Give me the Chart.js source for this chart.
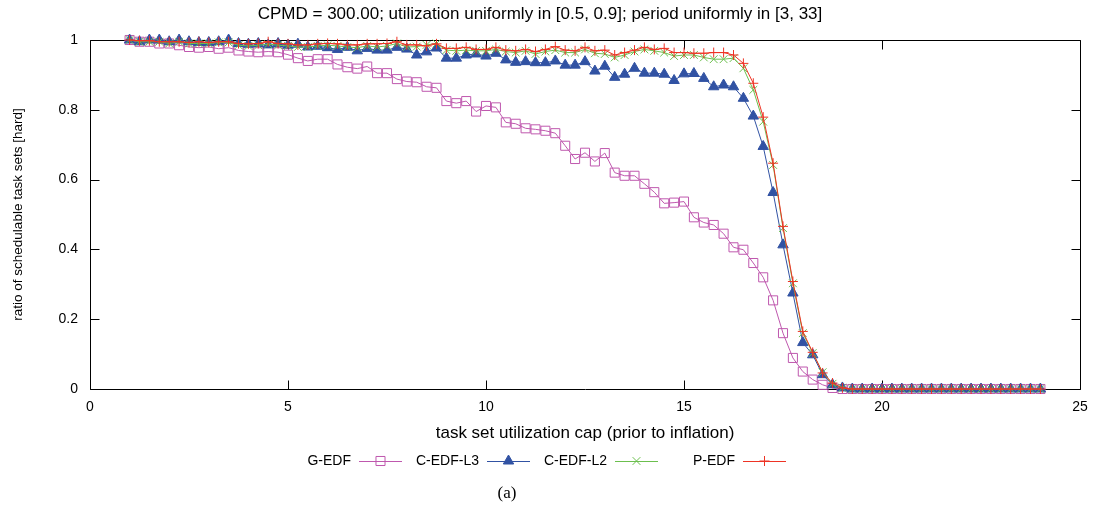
<!DOCTYPE html>
<html>
<head>
<meta charset="utf-8">
<script src="https://cdn.jsdelivr.net/npm/chart.js@4.4.0/dist/chart.umd.min.js"></script>
<style>
  body { margin: 0; background: #fff; }
  #wrap { position: relative; width: 1103px; height: 507px; }
  #rotulo { position: absolute; left: 0; width: 1014px; top: 484px; text-align: center;
            font-family: "Liberation Serif", serif; font-size: 17px; line-height: 17px; color: #000; }
</style>
</head>
<body>
<div id="wrap">
  <canvas id="grafico"></canvas>
  <div id="rotulo">(a)</div>
</div>
<script>
// eixo x: cap de utilizacao
const capsUtil = [
  1, 1.25, 1.5, 1.75, 2, 2.25, 2.5, 2.75, 3, 3.25,
  3.5, 3.75, 4, 4.25, 4.5, 4.75, 5, 5.25, 5.5, 5.75,
  6, 6.25, 6.5, 6.75, 7, 7.25, 7.5, 7.75, 8, 8.25,
  8.5, 8.75, 9, 9.25, 9.5, 9.75, 10, 10.25, 10.5, 10.75,
  11, 11.25, 11.5, 11.75, 12, 12.25, 12.5, 12.75, 13, 13.25,
  13.5, 13.75, 14, 14.25, 14.5, 14.75, 15, 15.25, 15.5, 15.75,
  16, 16.25, 16.5, 16.75, 17, 17.25, 17.5, 17.75, 18, 18.25,
  18.5, 18.75, 19, 19.25, 19.5, 19.75, 20, 20.25, 20.5, 20.75,
  21, 21.25, 21.5, 21.75, 22, 22.25, 22.5, 22.75, 23, 23.25,
  23.5, 23.75, 24
]

const gEdf = [
  1.0, 0.995, 0.995, 0.99, 0.99, 0.985, 0.98, 0.978, 0.98, 0.975,
  0.978, 0.97, 0.967, 0.965, 0.967, 0.965, 0.958, 0.948, 0.94, 0.945,
  0.945, 0.93, 0.922, 0.918, 0.924, 0.905, 0.905, 0.888, 0.881, 0.879,
  0.866, 0.863, 0.825, 0.819, 0.825, 0.795, 0.811, 0.807, 0.764, 0.76,
  0.747, 0.744, 0.74, 0.733, 0.697, 0.659, 0.677, 0.652, 0.676, 0.62,
  0.611, 0.611, 0.588, 0.564, 0.532, 0.534, 0.537, 0.492, 0.477, 0.47,
  0.445, 0.406, 0.399, 0.361, 0.32, 0.254, 0.16, 0.089, 0.05, 0.027,
  0.012, 0.003, 0, 0, 0, 0, 0, 0, 0, 0,
  0, 0, 0, 0, 0, 0, 0, 0, 0, 0,
  0, 0, 0
]

const cEdfL3 = [
  1.0, 0.995, 1.0, 1.0, 0.995, 1.0, 0.995, 0.993, 0.993, 0.995,
  1.0, 0.99, 0.988, 0.99, 0.986, 0.99, 0.985, 0.988, 0.98, 0.982,
  0.978, 0.973, 0.979, 0.969, 0.976, 0.971, 0.971, 0.979, 0.974, 0.957,
  0.966, 0.977, 0.948, 0.948, 0.957, 0.96, 0.954, 0.962, 0.943, 0.936,
  0.938, 0.935, 0.935, 0.94, 0.928, 0.928, 0.938, 0.911, 0.925, 0.893,
  0.902, 0.919, 0.905, 0.905, 0.902, 0.884, 0.903, 0.904, 0.89, 0.866,
  0.871, 0.866, 0.833, 0.782, 0.695, 0.563, 0.413, 0.275, 0.133, 0.098,
  0.041, 0.012, 0.003, 0, 0, 0, 0, 0, 0, 0,
  0, 0, 0, 0, 0, 0, 0, 0, 0, 0,
  0, 0, 0
]

const cEdfL2 = [
  1.0, 0.995, 0.995, 0.995, 0.99, 0.995, 0.99, 0.99, 0.99, 0.993,
  0.993, 0.985, 0.983, 0.985, 0.988, 0.985, 0.983, 0.98, 0.98, 0.983,
  0.985, 0.983, 0.98, 0.978, 0.983, 0.98, 0.983, 0.99, 0.98, 0.981,
  0.986, 0.99, 0.971, 0.969, 0.971, 0.969, 0.969, 0.973, 0.967, 0.964,
  0.969, 0.96, 0.967, 0.971, 0.964, 0.964, 0.973, 0.962, 0.96, 0.95,
  0.957, 0.967, 0.973, 0.969, 0.964, 0.954, 0.957, 0.957, 0.95, 0.945,
  0.945, 0.948, 0.919, 0.857, 0.766, 0.642, 0.461, 0.303, 0.16, 0.103,
  0.048, 0.015, 0.003, 0, 0, 0, 0, 0, 0, 0,
  0, 0, 0, 0, 0, 0, 0, 0, 0, 0,
  0, 0, 0
]

const pEdf = [
  1.0, 0.998, 0.998, 0.995, 0.995, 0.995, 0.993, 0.995, 0.993, 0.995,
  0.995, 0.99, 0.989, 0.99, 0.995, 0.99, 0.989, 0.986, 0.986, 0.989,
  0.99, 0.989, 0.986, 0.986, 0.989, 0.989, 0.99, 0.995, 0.986, 0.986,
  0.983, 0.989, 0.976, 0.976, 0.979, 0.973, 0.973, 0.979, 0.971, 0.969,
  0.973, 0.967, 0.973, 0.981, 0.971, 0.969, 0.979, 0.969, 0.971, 0.957,
  0.964, 0.971, 0.979, 0.973, 0.976, 0.964, 0.964, 0.962, 0.962, 0.964,
  0.964, 0.957, 0.933, 0.876, 0.779, 0.647, 0.466, 0.308, 0.165, 0.105,
  0.046, 0.017, 0.003, 0, 0, 0, 0, 0, 0, 0,
  0, 0, 0, 0, 0, 0, 0, 0, 0, 0,
  0, 0, 0
]

const nomesSeries = ['G-EDF', 'C-EDF-L3', 'C-EDF-L2', 'P-EDF']
const ticksX = [0, 5, 10, 15, 20, 25]
const ticksY = [0, 0.2, 0.4, 0.6, 0.8, 1]

const fonte = 'Liberation Sans'

// estilo de cada serie (cor, marcador)
const estilos = [
  { cor: '#bf58ae', ponto: 'rect', raio: 6.4, fundo: 'rgba(0,0,0,0)' },
  { cor: '#3152a3', ponto: 'triangle', raio: 6, fundo: '#3152a3' },
  { cor: '#6cbf4e', ponto: 'crossRot', raio: 5.5, fundo: 'rgba(0,0,0,0)' },
  { cor: '#ee3324', ponto: 'cross', raio: 5, fundo: 'rgba(0,0,0,0)' }
]

function montarPontos(valores) {
    return capsUtil.map((x, i) => ({ x: x, y: valores[i] }))
}

const todasSeries = [gEdf, cEdfL3, cEdfL2, pEdf]

const datasets = todasSeries.map((valores, i) => ({
    label: nomesSeries[i],
    data: montarPontos(valores),
    borderColor: estilos[i].cor,
    backgroundColor: estilos[i].fundo,
    pointBorderColor: estilos[i].cor,
    pointBackgroundColor: estilos[i].fundo,
    pointStyle: estilos[i].ponto,
    pointRadius: estilos[i].raio,
    pointBorderWidth: 1,
    borderWidth: 1,
    tension: 0,
    fill: false,
    clip: false,
    order: 4 - i // P-EDF por cima
}))

function desenharMarcador(ctx, estilo, x, y) {
    ctx.strokeStyle = estilo.cor
    ctx.fillStyle = estilo.fundo
    ctx.lineWidth = 1
    if (Chart.helpers && Chart.helpers.drawPoint) {
        Chart.helpers.drawPoint(ctx, { pointStyle: estilo.ponto, radius: estilo.raio, borderWidth: 1, rotation: 0 }, x, y)
    }
}

// moldura com ticks para dentro (estilo gnuplot) + legenda embaixo
const pluginMoldura = {
    id: 'moldura',
    beforeDatasetsDraw(chart) {
        const ctx = chart.ctx
        const a = chart.chartArea
        const sx = chart.scales.x
        const sy = chart.scales.y
        const L = Math.round(a.left) + 0.5
        const R = Math.round(a.right) + 0.5
        const T = Math.round(a.top) + 0.5
        const B = Math.round(a.bottom) + 0.5
        ctx.save()
        ctx.strokeStyle = '#000'
        ctx.lineWidth = 1
        ctx.beginPath()
        ctx.rect(L, T, R - L, B - T)
        ticksX.forEach((v) => {
            const px = Math.round(sx.getPixelForValue(v)) + 0.5
            ctx.moveTo(px, B); ctx.lineTo(px, B - 9)
            ctx.moveTo(px, T); ctx.lineTo(px, T + 9)
        })
        ticksY.forEach((v) => {
            const py = Math.round(sy.getPixelForValue(v)) + 0.5
            ctx.moveTo(L, py); ctx.lineTo(L + 9, py)
            ctx.moveTo(R, py); ctx.lineTo(R - 9, py)
        })
        ctx.stroke()
        ctx.restore()
    },
    afterDraw(chart) {
        const ctx = chart.ctx
        const yLeg = 461
        ctx.save()
        ctx.font = '14px "' + fonte + '"'
        ctx.textAlign = 'right'
        ctx.textBaseline = 'middle'
        nomesSeries.forEach((nome, i) => {
            const ini = 359 + 128 * i
            const fim = ini + 43
            ctx.fillStyle = '#000'
            ctx.fillText(nome, ini - 8, yLeg)
            ctx.strokeStyle = estilos[i].cor
            ctx.lineWidth = 1
            ctx.beginPath()
            ctx.moveTo(ini, yLeg + 0.5)
            ctx.lineTo(fim, yLeg + 0.5)
            ctx.stroke()
            desenharMarcador(ctx, estilos[i], (ini + fim) / 2, yLeg)
        })
        ctx.restore()
    }
}

const config = {
    type: 'line',
    data: { datasets: datasets },
    options: {
        responsive: true,
        maintainAspectRatio: false,
        animation: false,
        layout: { padding: { left: 0, right: 23, top: 0, bottom: 0 } },
        plugins: {
            legend: { display: false },
            tooltip: { enabled: false },
            title: {
                display: true,
                text: 'CPMD = 300.00; utilization uniformly in [0.5, 0.9]; period uniformly in [3, 33]',
                color: '#000',
                font: { family: fonte, size: 17, weight: 'normal' },
                padding: { top: 3.8, bottom: 15.8 }
            }
        },
        scales: {
            x: {
                type: 'linear',
                min: 0,
                max: 25,
                grid: { display: false, drawTicks: false },
                border: { display: false },
                ticks: { stepSize: 5, padding: 10, color: '#000', maxRotation: 0, font: { family: fonte, size: 14 } },
                title: {
                    display: true,
                    text: 'task set utilization cap (prior to inflation)',
                    color: '#000',
                    font: { family: fonte, size: 17 },
                    padding: { top: 0, bottom: 63.8 }
                },
                afterFit(scale) { scale.height = 118 }
            },
            y: {
                min: 0,
                max: 1,
                grid: { display: false, drawTicks: false },
                border: { display: false },
                ticks: {
                    stepSize: 0.2, padding: 12, color: '#000', font: { family: fonte, size: 14 },
                    callback: (v) => String(Number(v.toFixed(1)))
                },
                title: {
                    display: true,
                    text: 'ratio of schedulable task sets [hard]',
                    color: '#000',
                    font: { family: fonte, size: 13.5 },
                    padding: { top: 10, bottom: 0 }
                },
                afterFit(scale) { scale.width = 90 }
            }
        }
    },
    plugins: [pluginMoldura]
}

let meuGrafico = new Chart(document.getElementById('grafico'), config)
</script>
</body>
</html>
